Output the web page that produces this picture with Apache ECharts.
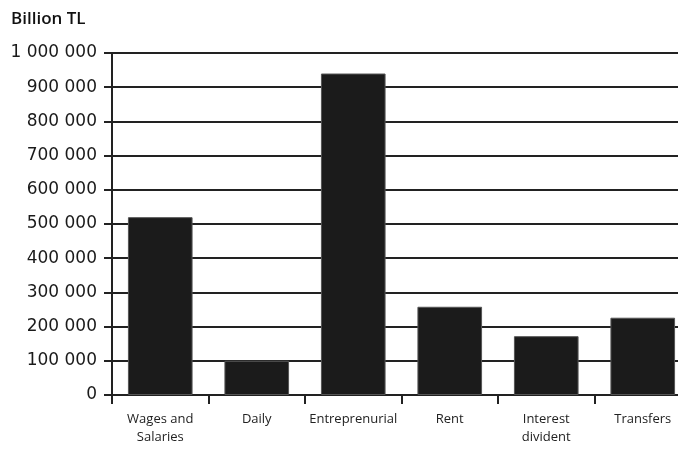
<!DOCTYPE html>
<html><head><meta charset="utf-8">
<script src="https://cdn.jsdelivr.net/npm/echarts@6/dist/echarts.min.js"></script>
<style>html,body{margin:0;padding:0;background:#fff;overflow:hidden;width:678px;height:449px}#c{width:691px;height:449px}</style>
</head><body><div id="c"></div>
<script>
const categories = ['Wages and\nSalaries', 'Daily', 'Entreprenurial', 'Rent', 'Interest\ndivident', 'Transfers'];
const values = [520000, 100000, 940000, 258000, 172000, 226000];
const yTicks = [0, 100000, 200000, 300000, 400000, 500000, 600000, 700000, 800000, 900000, 1000000];

const chart = echarts.init(document.getElementById('c'), null, {renderer: 'canvas'});
const fmt = v => v === 0 ? '0' : String(v).replace(/\B(?=(\d{3})+(?!\d))/g, ' ');
chart.setOption({
  animation: false,
  backgroundColor: '#fff',
  title: {
    text: 'Billion TL', left: 6, top: 6,
    textStyle: {fontFamily: 'Open Sans', fontSize: 17, fontWeight: 600, color: '#111'}
  },
  grid: {left: 112, right: 0, top: 53, bottom: 54, containLabel: false},
  xAxis: {
    type: 'category', data: categories,
    axisLine: {lineStyle: {color: '#222', width: 2}},
    axisTick: {show: true, length: 9, lineStyle: {color: '#222', width: 2}},
    axisLabel: {fontFamily: 'Open Sans', fontSize: 13, color: '#222', margin: 15, lineHeight: 18, interval: 0}
  },
  yAxis: {
    type: 'value', min: yTicks[0], max: yTicks[yTicks.length - 1], interval: 100000,
    axisLine: {show: true, lineStyle: {color: '#222', width: 2}},
    axisTick: {show: true, length: 8, lineStyle: {color: '#222', width: 2}},
    splitLine: {show: true, lineStyle: {color: '#222', width: 2}},
    axisLabel: {fontFamily: 'DejaVu Sans', fontSize: 17, color: '#1a1a1a', margin: 15, formatter: fmt}
  },
  series: [{
    type: 'bar', data: values, barWidth: '67%',
    itemStyle: {color: '#1b1b1b', borderColor: '#555', borderWidth: 1}
  }]
});
</script></body></html>
